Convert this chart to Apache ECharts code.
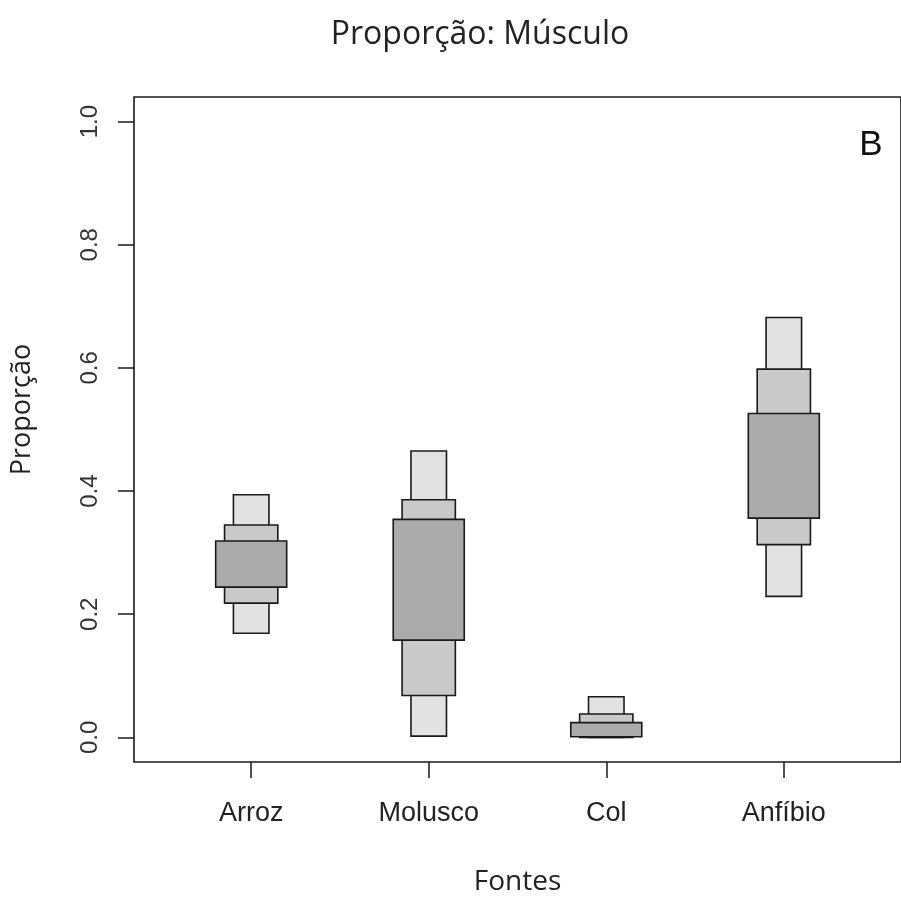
<!DOCTYPE html>
<html>
<head>
<meta charset="utf-8">
<script src="https://cdn.jsdelivr.net/npm/echarts@6/dist/echarts.min.js"></script>
<style>
  html, body { margin: 0; padding: 0; background: #fff; }
  #chart { width: 901px; height: 902px; }
</style>
</head>
<body>
<div id="chart"></div>
<script>
// fontes (categorias) e intervalos de credibilidade
const categories = ['Arroz', 'Molusco', 'Col', 'Anfíbio']
const lo95 = [0.169, 0.002, 0.000, 0.229]
const hi95 = [0.394, 0.465, 0.066, 0.682]
const lo75 = [0.218, 0.068, 0.000, 0.313]
const hi75 = [0.345, 0.386, 0.038, 0.598]
const lo50 = [0.244, 0.158, 0.001, 0.356]
const hi50 = [0.319, 0.354, 0.024, 0.526]
const yTicks = [0, 0.2, 0.4, 0.6, 0.8, 1.0]
const xTicks = [1, 2, 3, 4]

const chart = echarts.init(document.getElementById('chart'))

function boxSeries(name, lo, hi, halfWidth, color) {
  return {
    name: name,
    type: 'custom',
    data: categories.map((c, i) => [i + 1, lo[i], hi[i]]),
    encode: { x: 0, y: [1, 2] },
    renderItem: function (params, api) {
      const x = api.value(0)
      const p1 = api.coord([x - halfWidth, api.value(2)])
      const p2 = api.coord([x + halfWidth, api.value(1)])
      return {
        type: 'rect',
        shape: { x: p1[0], y: p1[1], width: p2[0] - p1[0], height: p2[1] - p1[1] },
        style: { fill: color, stroke: '#1a1a1a', lineWidth: 1.6 }
      }
    },
    silent: true
  }
}

const option = {
  animation: false,
  backgroundColor: '#fff',
  graphic: [
    {
      type: 'text',
      x: 480,
      y: 35,
      style: {
        text: 'Proporção: Músculo',
        font: '32px "Open Sans"',
        fill: '#222',
        textAlign: 'center',
        textVerticalAlign: 'middle'
      }
    },
    {
      type: 'text',
      x: 871,
      y: 145,
      style: {
        text: 'B',
        font: '35px "Liberation Sans"',
        fill: '#111',
        textAlign: 'center',
        textVerticalAlign: 'middle'
      }
    }
  ],
  grid: {
    left: 134,
    top: 97,
    width: 768,
    height: 665,
    show: true,
    borderColor: '#1a1a1a',
    borderWidth: 1.6,
    backgroundColor: '#fff'
  },
  xAxis: {
    type: 'value',
    min: 0.34,
    max: 4.66,
    name: 'Fontes',
    nameLocation: 'middle',
    nameGap: 106,
    nameTextStyle: { fontFamily: 'Open Sans', fontSize: 28, color: '#222' },
    axisLine: { show: false, onZero: false },
    splitLine: { show: false },
    axisTick: {
      show: true,
      customValues: xTicks,
      length: 16,
      lineStyle: { color: '#1a1a1a', width: 1.5 }
    },
    axisLabel: {
      customValues: xTicks,
      formatter: v => categories[Math.round(v) - 1],
      margin: 38,
      fontFamily: 'Liberation Sans Narrow, Liberation Sans',
      fontSize: 27,
      color: '#222'
    }
  },
  yAxis: {
    type: 'value',
    min: -0.04,
    max: 1.04,
    name: 'Proporção',
    nameLocation: 'middle',
    nameGap: 98,
    nameTextStyle: { fontFamily: 'Open Sans', fontSize: 27, color: '#222', padding: [0, 0, 0, 40] },
    axisLine: { show: false, onZero: false },
    splitLine: { show: false },
    axisTick: {
      show: true,
      customValues: yTicks,
      length: 16,
      lineStyle: { color: '#1a1a1a', width: 1.5 }
    },
    axisLabel: {
      customValues: yTicks,
      formatter: v => v.toFixed(1),
      rotate: 90,
      margin: 32,
      fontFamily: 'Liberation Sans',
      fontSize: 24,
      color: '#333'
    }
  },
  series: [
    boxSeries('95%', lo95, hi95, 0.1, '#e2e2e2'),
    boxSeries('75%', lo75, hi75, 0.15, '#c9c9c9'),
    boxSeries('50%', lo50, hi50, 0.2, '#ababab')
  ]
}

chart.setOption(option)
</script>
</body>
</html>
